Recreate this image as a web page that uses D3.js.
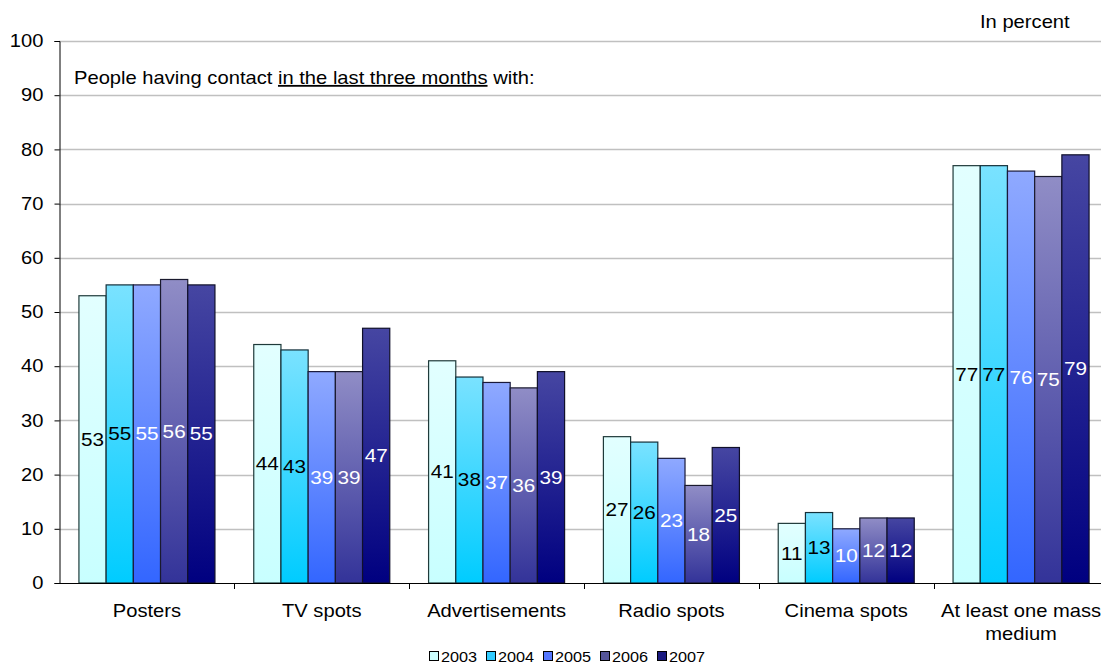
<!DOCTYPE html>
<html>
<head>
<meta charset="utf-8">
<script src="https://cdn.jsdelivr.net/npm/d3@7"></script>
<style>
  html, body { margin: 0; padding: 0; background: #fff; }
  svg { display: block; font-family: "Liberation Sans", Arial, sans-serif; }
</style>
</head>
<body>
<svg id="chart" width="1101" height="663"></svg>
<script>
// Media contact categories (x axis)
const categories = [["Posters"], ["TV spots"], ["Advertisements"], ["Radio spots"], ["Cinema spots"], ["At least one mass", "medium"]];
const years = ["2003", "2004", "2005", "2006", "2007"];
// Share of people (%) per category, one array per year
const v2003 = [53, 44, 41, 27, 11, 77];
const v2004 = [55, 43, 38, 26, 13, 77];
const v2005 = [55, 39, 37, 23, 10, 76];
const v2006 = [56, 39, 36, 18, 12, 75];
const v2007 = [55, 47, 39, 25, 12, 79];
const yTicks = [0, 10, 20, 30, 40, 50, 60, 70, 80, 90, 100];

const series = [v2003, v2004, v2005, v2006, v2007];
// gradient stops (top, bottom), border, legend swatch and label colour for each year
const styles = [
  { top: "#E2FFFF", bottom: "#C8FFFF", swatch: "#CCFFFF", stroke: "#1F3A3A", text: "#000" },
  { top: "#7AE2FF", bottom: "#00CCFF", swatch: "#33CCFF", stroke: "#14303A", text: "#000" },
  { top: "#8FA9FF", bottom: "#3366FF", swatch: "#5577FF", stroke: "#1A1A3A", text: "#fff" },
  { top: "#908DC6", bottom: "#333399", swatch: "#555599", stroke: "#1A1A2E", text: "#fff" },
  { top: "#4646A2", bottom: "#000080", swatch: "#1A1A80", stroke: "#10102A", text: "#fff" }
];

// Text is drawn slightly widened horizontally
const SX = 1.12;
function stretch(sel) {
  sel.each(function () {
    const t = d3.select(this);
    const x = +t.attr("x") || 0, y = +t.attr("y") || 0;
    t.attr("transform", `translate(${x},${y}) scale(${SX},1)`).attr("x", 0).attr("y", 0);
  });
}

const svg = d3.select("#chart");
const left = 59;
const plotTop = 41, plotBottom = 583;

const x0 = d3.scaleBand().domain(d3.range(categories.length)).range([left, 1109])
  .paddingInner(0.222).paddingOuter(0.114);
const x1 = d3.scaleBand().domain(d3.range(years.length)).range([0, x0.bandwidth()]);
const y = d3.scaleLinear().domain([0, 100]).range([plotBottom, plotTop]);

const defs = svg.append("defs");
styles.forEach((s, i) => {
  const g = defs.append("linearGradient").attr("id", "grad" + i)
    .attr("x1", 0).attr("y1", 0).attr("x2", 0).attr("y2", 1);
  g.append("stop").attr("offset", "0%").attr("stop-color", s.top);
  g.append("stop").attr("offset", "100%").attr("stop-color", s.bottom);
});

// horizontal gridlines
svg.append("g").selectAll("line").data(yTicks.filter(t => t > 0)).join("line")
  .attr("x1", left).attr("x2", 1101)
  .attr("y1", d => Math.round(y(d)) + 0.5).attr("y2", d => Math.round(y(d)) + 0.5)
  .attr("stroke", "#C0C0C0").attr("stroke-width", 1.3);

// y axis
const yAxis = d3.axisLeft(y).tickValues(yTicks).tickSize(5).tickPadding(11);
const ga = svg.append("g").attr("transform", `translate(${left + 0.5},0)`).call(yAxis);
ga.select(".domain").attr("stroke", "#000");
ga.selectAll(".tick line").attr("stroke", "#000");
ga.selectAll(".tick text").attr("font-size", 18).attr("fill", "#000")
  .attr("font-family", "'Liberation Sans', Arial, sans-serif").call(stretch);

// bars
const groups = svg.append("g").selectAll("g").data(categories.map((c, i) => i)).join("g")
  .attr("transform", i => `translate(${x0(i)},0)`);

groups.selectAll("rect").data(ci => series.map((s, si) => ({ si, v: s[ci] }))).join("rect")
  .attr("x", d => x1(d.si))
  .attr("y", d => y(d.v))
  .attr("width", x1.bandwidth())
  .attr("height", d => plotBottom - y(d.v))
  .attr("fill", d => `url(#grad${d.si})`)
  .attr("stroke", d => styles[d.si].stroke)
  .attr("stroke-width", 1.2);

groups.selectAll("text").data(ci => series.map((s, si) => ({ si, v: s[ci] }))).join("text")
  .attr("x", d => x1(d.si) + x1.bandwidth() / 2)
  .attr("y", d => (y(d.v) + plotBottom) / 2)
  .attr("dy", "0.35em")
  .attr("text-anchor", "middle")
  .attr("font-size", 18.5)
  .attr("fill", d => styles[d.si].text)
  .text(d => d.v)
  .call(stretch);

// x axis line and category separators
svg.append("line").attr("x1", left).attr("x2", 1101)
  .attr("y1", plotBottom + 0.5).attr("y2", plotBottom + 0.5).attr("stroke", "#000").attr("stroke-width", 1.2);
svg.append("g").selectAll("line").data(d3.range(1, categories.length)).join("line")
  .attr("x1", i => Math.round(x0(i) - x0.step() * x0.paddingInner() / 2) + 0.5)
  .attr("x2", i => Math.round(x0(i) - x0.step() * x0.paddingInner() / 2) + 0.5)
  .attr("y1", plotBottom).attr("y2", plotBottom + 6).attr("stroke", "#000");

// category labels
const catLines = [];
categories.forEach((c, i) => c.forEach((t, k) => catLines.push({ t, i, k })));
svg.append("g").selectAll("text").data(catLines).join("text")
  .attr("x", d => x0(d.i) + x0.bandwidth() / 2)
  .attr("y", d => 617 + d.k * 23)
  .attr("text-anchor", "middle")
  .attr("font-size", 18)
  .attr("fill", "#000")
  .text(d => d.t)
  .call(stretch);

// notes
svg.append("text").attr("x", 980).attr("y", 28).attr("font-size", 18).attr("fill", "#000")
  .text("In percent").call(stretch);
const note = svg.append("text").attr("x", 74).attr("y", 84).attr("font-size", 18).attr("fill", "#000");
note.append("tspan").text("People having contact ");
note.append("tspan").attr("text-decoration", "underline").text("in the last three months");
note.append("tspan").text(" with:");
note.call(stretch);

// legend
const legend = svg.append("g").attr("transform", "translate(429,651)");
const li = legend.selectAll("g").data(years).join("g")
  .attr("transform", (d, i) => `translate(${i * 57},0)`);
li.append("rect").attr("x", 0.5).attr("y", 0.5).attr("width", 9).attr("height", 9)
  .attr("fill", (d, i) => styles[i].swatch)
  .attr("stroke", "#000").attr("stroke-width", 1);
li.append("text").attr("x", 12).attr("y", 10.5).attr("font-size", 14.5).attr("fill", "#000")
  .text(d => d).call(stretch);
</script>
</body>
</html>
